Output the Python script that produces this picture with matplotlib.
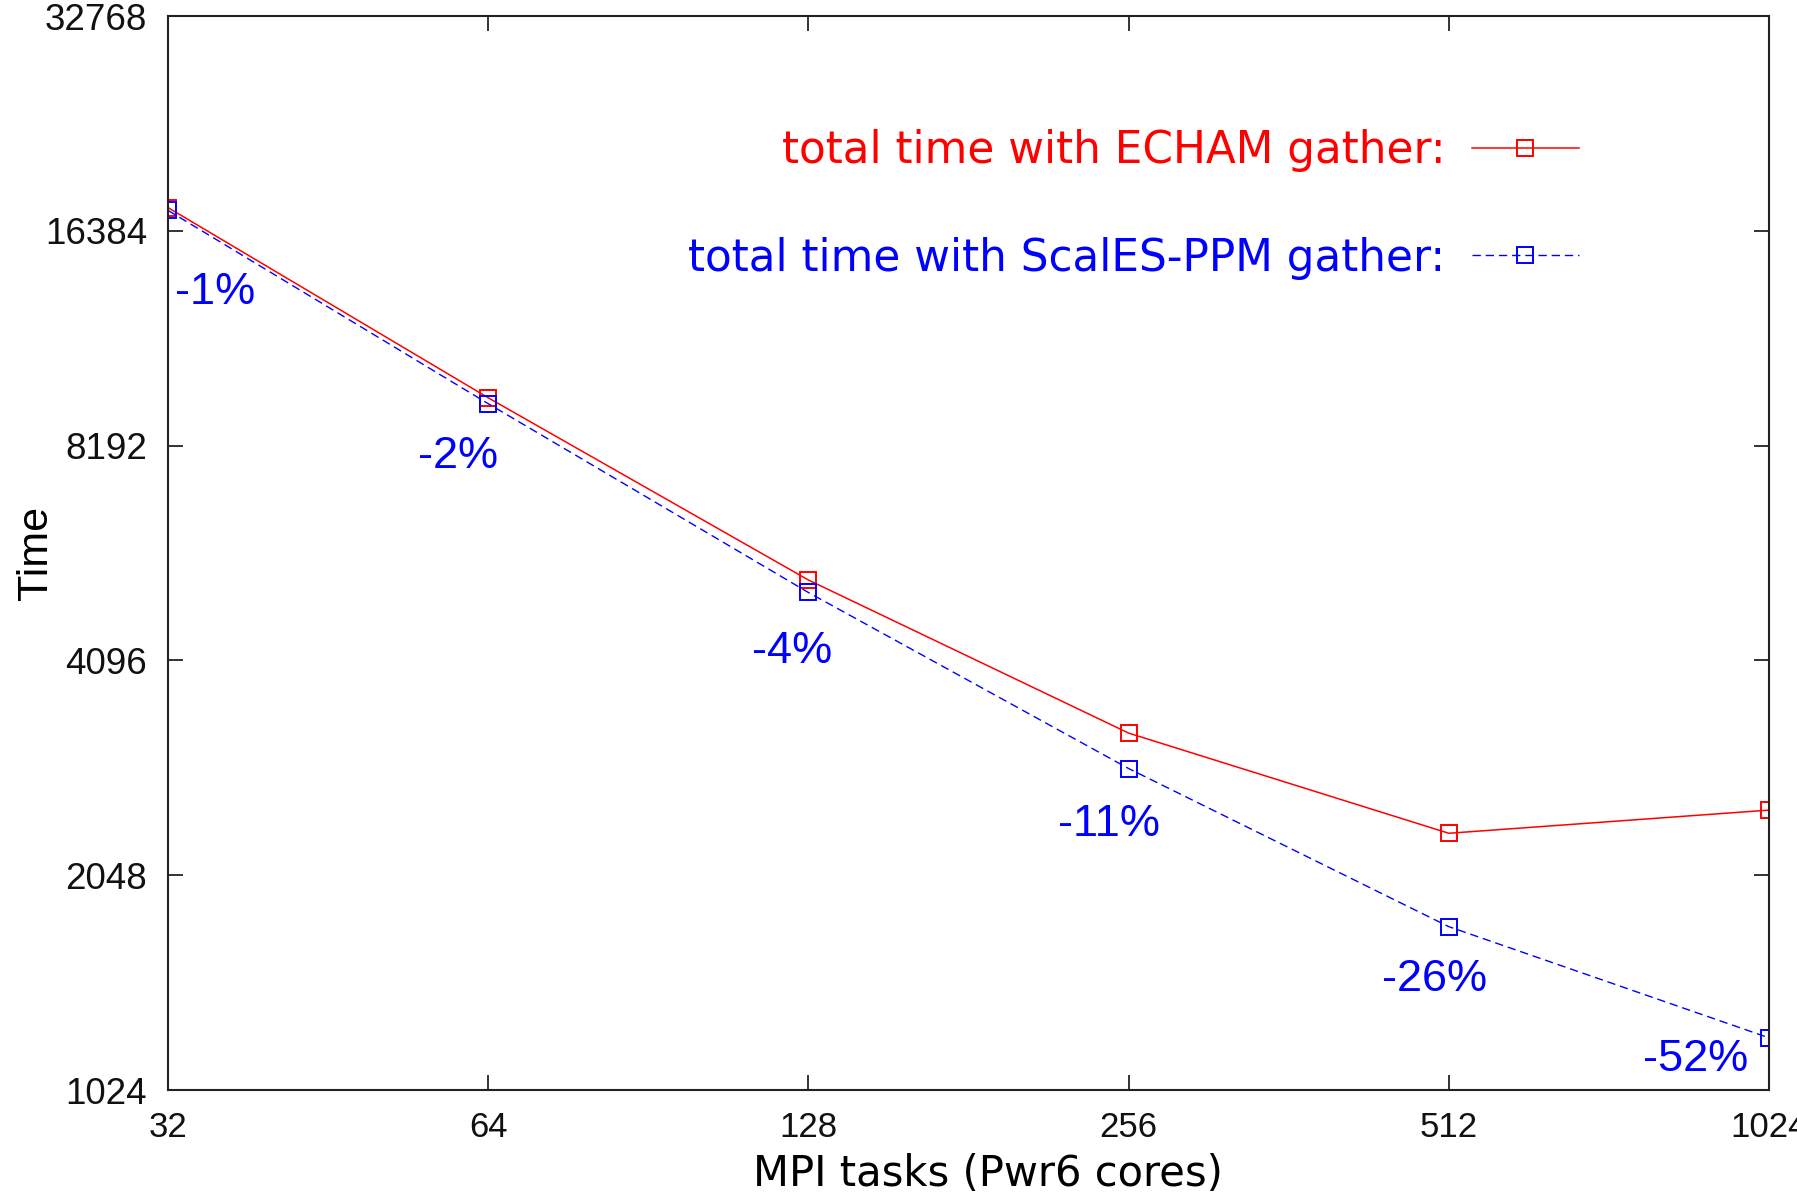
import numpy as np
import matplotlib
matplotlib.use('Agg')
import matplotlib.pyplot as plt

# MPI tasks and total run time
tasks = [32, 64, 128, 256, 512, 1024]
echam_time = [17660, 9560, 5310, 3240, 2345, 2527]
scales_time = [17500, 9380, 5100, 2890, 1735, 1212]
pct_labels = ['-1%', '-2%', '-4%', '-11%', '-26%', '-52%']

yticks = [1024, 2048, 4096, 8192, 16384, 32768]

plt.rcParams['font.family'] = ['Liberation Sans', 'DejaVu Sans']

fig = plt.figure(figsize=(17.97, 11.96), dpi=100)
ax = fig.add_axes([0.0935, 0.0886, 0.8909, 0.898])

ax.plot(tasks, echam_time, color='#ff0000', lw=1.1, marker='s', ms=11,
        mfc='none', mec='#ff0000', mew=1.4, label='total time with ECHAM gather:')
ax.plot(tasks, scales_time, color='#0000ff', lw=1.0, dashes=(6, 3.5), marker='s', ms=11,
        mfc='none', mec='#0000ff', mew=1.4, label='total time with ScalES-PPM gather:')

# percentage labels, offsets in pixels from the blue points
offs = [(47, -82), (-30, -53), (-16, -59), (-20, -56), (-14, -53), (-73, -22)]
for x, y, s, o in zip(tasks, scales_time, pct_labels, offs):
    ax.annotate(s, xy=(x, y), xytext=o, textcoords='offset pixels',
                ha='center', va='center', color='#0000ff', fontsize=32.5)

ax.set_xscale('log', base=2)
ax.set_yscale('log', base=2)
ax.set_xlim(32, 1024)
ax.set_ylim(1024, 32768)
ax.set_xticks(tasks)
ax.set_xticklabels([str(t) for t in tasks])
ax.set_yticks(yticks)
ax.set_yticklabels([str(t) for t in yticks])
ax.minorticks_off()

ax.tick_params(axis='both', direction='in', length=11, width=1.2, top=True, right=True,
               colors='#111111')
ax.tick_params(axis='x', pad=15, labelsize=25)
ax.tick_params(axis='y', pad=15, labelsize=26.5)
for sp in ax.spines.values():
    sp.set_linewidth(1.5)
    sp.set_color('#222222')

ax.set_xlabel('MPI tasks (Pwr6 cores)', fontsize=30, family='DejaVu Sans')
ax.xaxis.set_label_coords(0.512, -0.0587)
ax.set_ylabel('Time', fontsize=31)
ax.yaxis.set_label_coords(-0.07, 0.5)

leg = ax.legend(loc='upper right', bbox_to_anchor=(0.8813, 0.8945), frameon=False,
                markerfirst=False, labelcolor='linecolor', borderpad=0, borderaxespad=0,
                handlelength=2.45, handletextpad=0.6, labelspacing=1.47,
                prop={'family': 'DejaVu Sans', 'size': 31.5})

plt.savefig('out.png', dpi=100)
